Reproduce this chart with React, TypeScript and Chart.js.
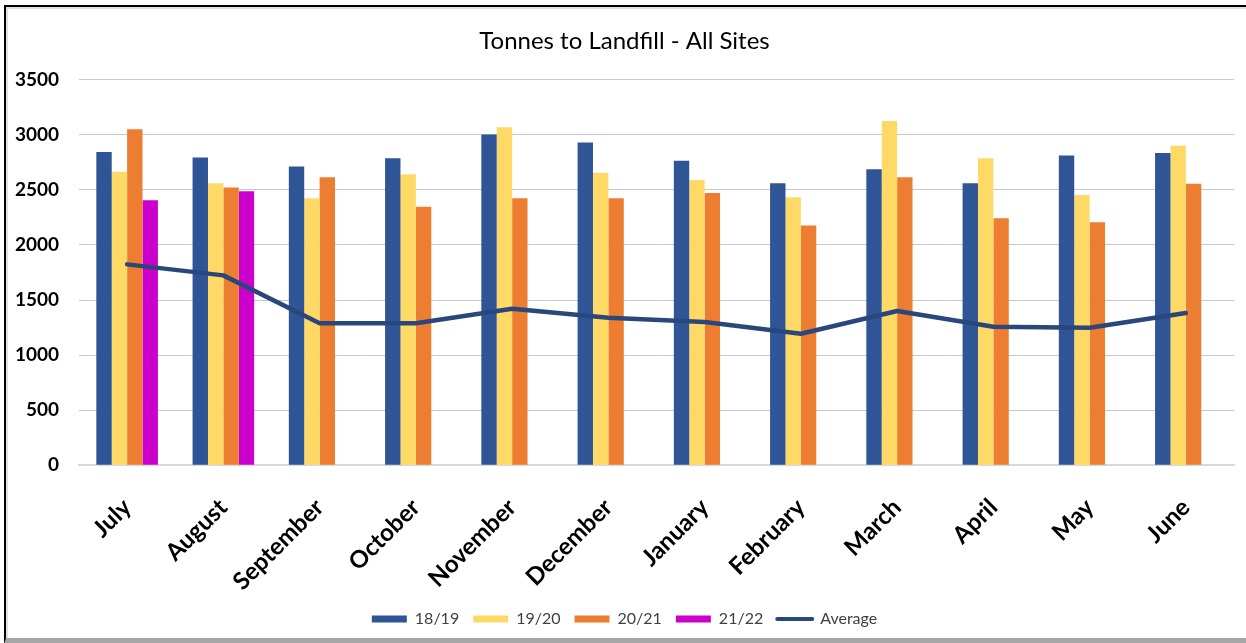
import React, { useEffect, useRef } from "react";
import { Chart, registerables } from "chart.js";

Chart.register(...registerables);

const months = ["July", "August", "September", "October", "November", "December", "January", "February", "March", "April", "May", "June"];
const s1819 = [2845, 2794, 2712, 2788, 3003, 2930, 2764, 2561, 2688, 2561, 2812, 2836];
const s1920 = [2664, 2561, 2424, 2642, 3070, 2655, 2591, 2433, 3127, 2788, 2455, 2900];
const s2021 = [3051, 2521, 2615, 2348, 2424, 2424, 2473, 2176, 2615, 2242, 2206, 2555];
const s2122 = [2406, 2488, null, null, null, null, null, null, null, null, null, null];
const average = [1824, 1724, 1290, 1290, 1421, 1339, 1300, 1194, 1400, 1258, 1248, 1382];
const seriesNames = ["18/19", "19/20", "20/21", "21/22", "Average"];
const yTicks = [0, 500, 1000, 1500, 2000, 2500, 3000, 3500];

const colors = ["#2F5597", "#FFD966", "#ED7D31", "#CC00CC", "#2A477C"];

export default function App() {
  const ref = useRef<HTMLCanvasElement | null>(null);
  useEffect(() => {
    if (!ref.current) return;
    const barSets = [s1819, s1920, s2021, s2122].map((d, i) => ({
      type: "bar" as const,
      label: seriesNames[i],
      data: d,
      backgroundColor: colors[i],
      borderWidth: 0,
      order: 1,
      categoryPercentage: 0.64,
      barPercentage: 1.0,
    }));
    const chart = new Chart(ref.current, {
      type: "bar",
      data: {
        labels: months,
        datasets: [
          ...barSets,
          {
            type: "line" as const,
            label: seriesNames[4],
            data: average,
            borderColor: colors[4],
            backgroundColor: colors[4],
            borderWidth: 4.5,
            pointRadius: 0,
            tension: 0,
            borderCapStyle: "round",
            borderJoinStyle: "round",
            order: 0,
          } as any,
        ],
      },
      options: {
        animation: false,
        responsive: false,
        maintainAspectRatio: false,
        layout: { autoPadding: false, padding: { left: 9, right: 12, top: 10, bottom: 6 } },
        plugins: {
          title: {
            display: true,
            text: "Tonnes to Landfill - All Sites",
            color: "#000000",
            font: { family: "Lato", size: 24, weight: "normal" },
            padding: { top: 10, bottom: 24 },
          },
          legend: {
            position: "bottom",
            labels: {
              color: "#404040",
              font: { family: "Lato", size: 16 },
              usePointStyle: true,
              pointStyleWidth: 35,
              boxWidth: 35,
              boxHeight: 7,
              padding: 14,
              sort: (a: any, b: any) => a.datasetIndex - b.datasetIndex,
              generateLabels: (c: any) => {
                const items = (Chart.defaults.plugins.legend.labels as any).generateLabels(c);
                items.forEach((it: any) => {
                  if (it.datasetIndex === 4) {
                    it.pointStyle = "line";
                    it.lineWidth = 4;
                    it.strokeStyle = colors[4];
                    it.lineCap = "round";
                  } else {
                    it.pointStyle = "rect";
                    it.lineWidth = 0;
                    it.fillStyle = colors[it.datasetIndex];
                  }
                });
                return items;
              },
            },
          },
          tooltip: { enabled: false },
        },
        scales: {
          x: {
            afterFit: (s: any) => {
              s.paddingLeft = 0;
              s.paddingRight = 0;
              s.height = s.height - 27;
            },
            grid: { display: false, drawTicks: false },
            border: { display: true, color: "#D9D9D9", width: 2 },
            ticks: {
              color: "#000000",
              font: { family: "Lato", size: 24, weight: "bold" },
              maxRotation: 45,
              minRotation: 45,
              padding: 28,
              autoSkip: false,
            },
          },
          y: {
            min: 0,
            max: 3500,
            afterBuildTicks: (axis: any) => {
              axis.ticks = yTicks.map((v) => ({ value: v }));
            },
            afterFit: (s: any) => {
              s.width = 64;
              s.paddingTop = 0;
              s.paddingBottom = 0;
            },
            grid: { color: "#C8C8C8", lineWidth: 1, drawTicks: false },
            border: { display: false },
            ticks: {
              color: "#000000",
              font: { family: "Lato", size: 19, weight: "bold" },
              padding: 20,
              callback: (v: any) => String(v),
            },
          },
        },
      },
    });
    return () => chart.destroy();
  }, []);

  return (
    <div style={{ position: "absolute", left: 0, top: 0, width: 1246, height: 643, background: "#ffffff", overflow: "hidden" }}>
      <div
        style={{
          position: "absolute",
          left: 4,
          top: 5,
          width: 1260,
          height: 631,
          borderTop: "2px solid #000",
          borderLeft: "2px solid #000",
          borderBottom: "6px solid #A6A6A6",
          boxShadow: "inset 2px 2px 0 #E0E0E0",
        }}
      />
      <canvas ref={ref} width={1240} height={636} style={{ position: "absolute", left: 6, top: 7, width: 1240, height: 636 }} />
    </div>
  );
}
